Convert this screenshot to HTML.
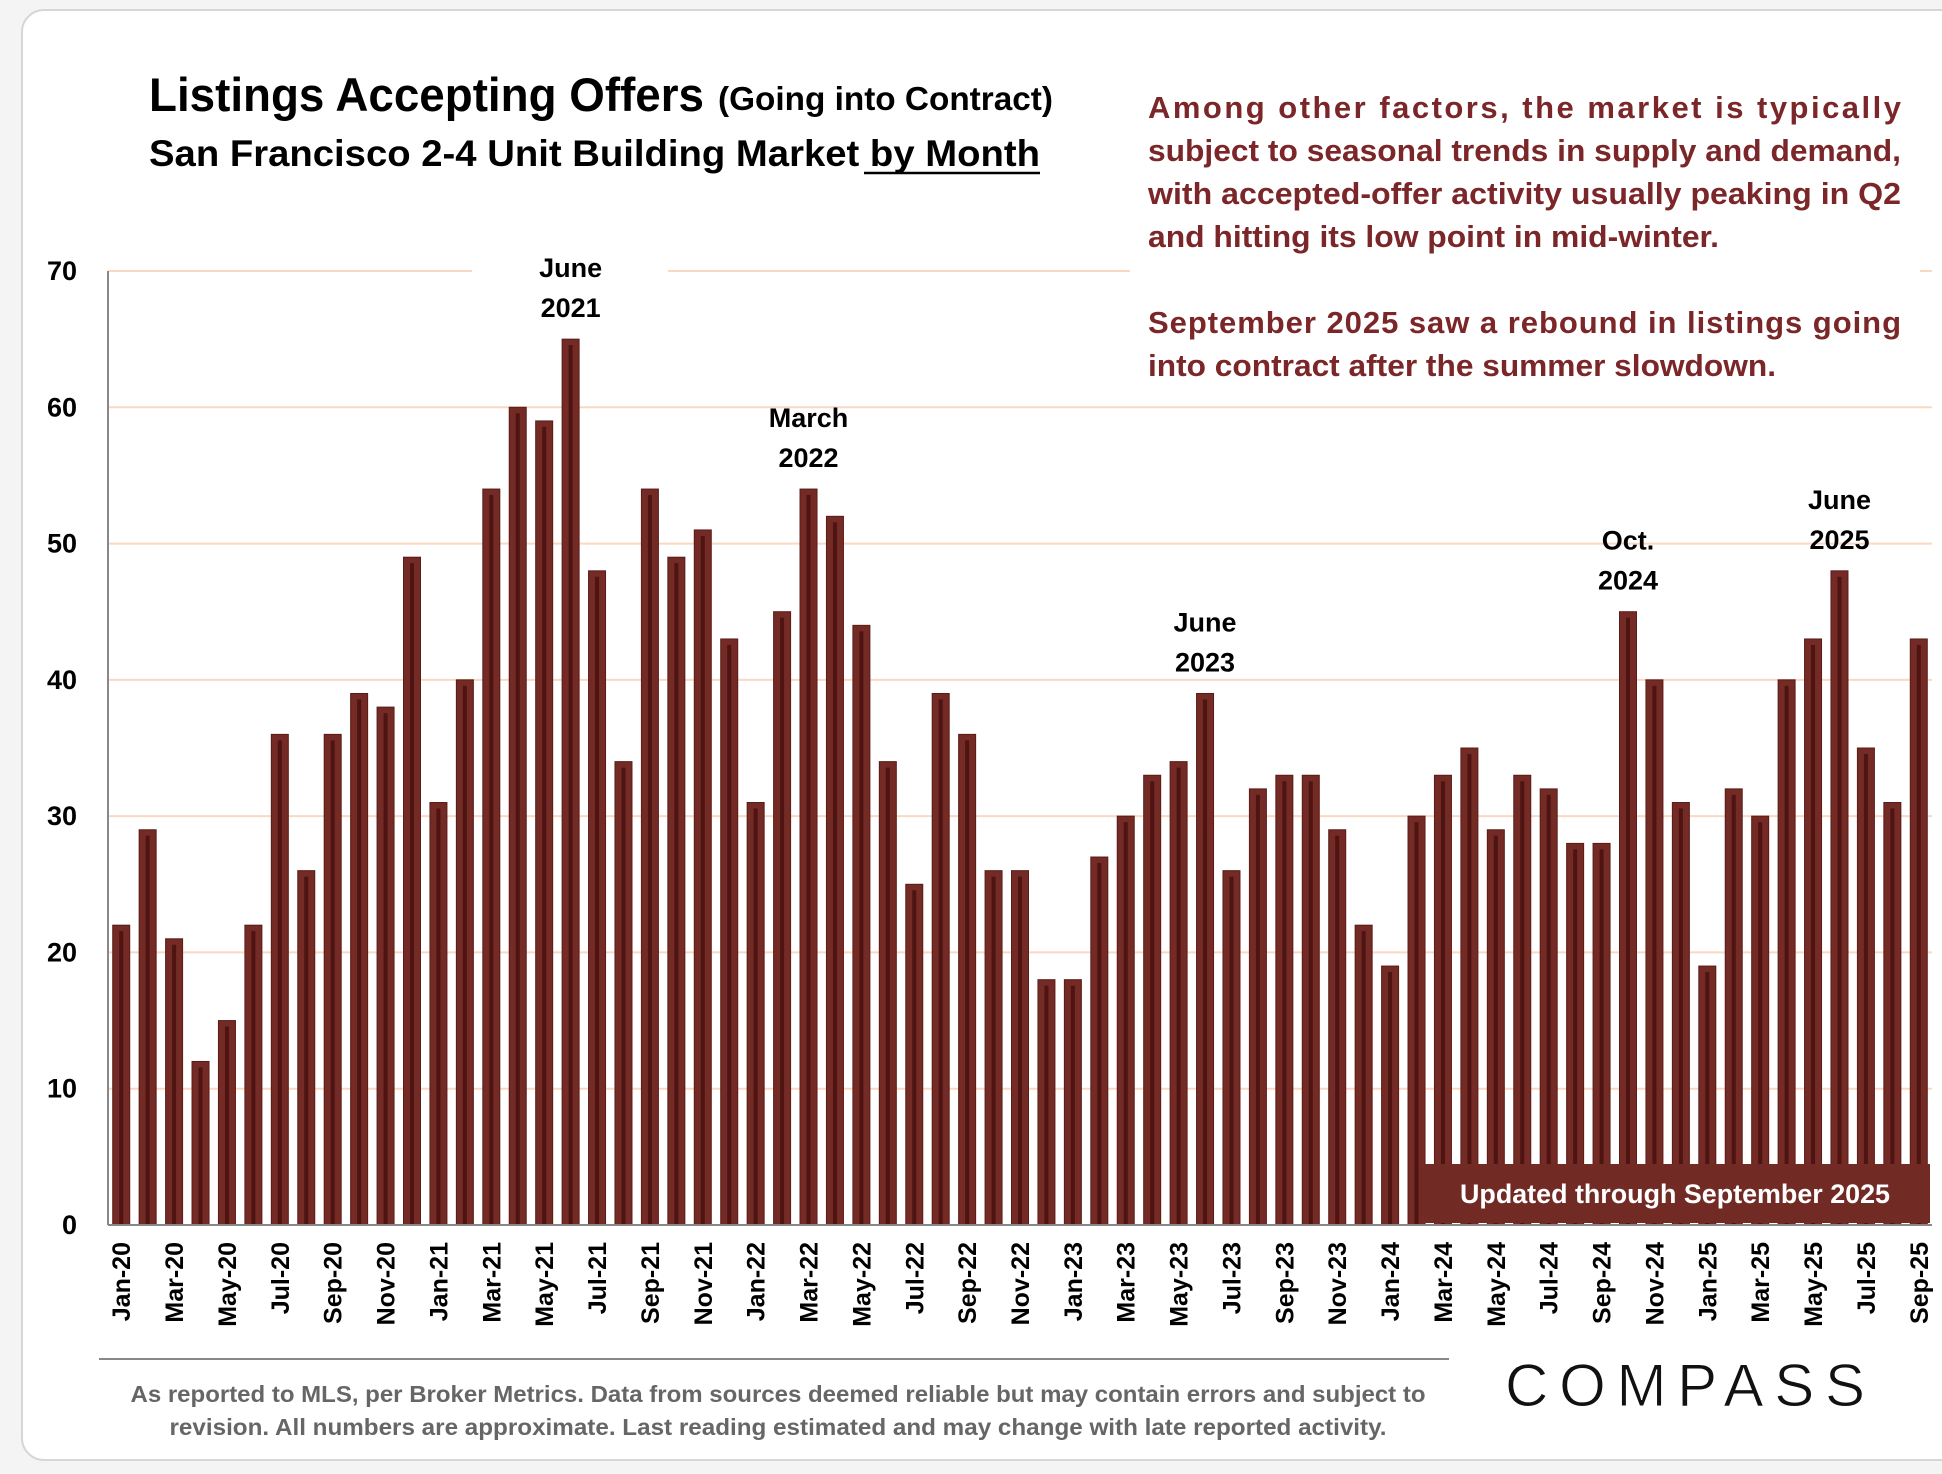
<!DOCTYPE html>
<html><head><meta charset="utf-8"><style>
html,body{margin:0;padding:0;background:#f4f4f4;}
svg{display:block;font-family:"Liberation Sans",sans-serif;}
</style></head><body>
<svg id="chart" width="1942" height="1474" viewBox="0 0 1942 1474" xmlns="http://www.w3.org/2000/svg">
<rect x="22" y="10" width="1940" height="1450" rx="22" fill="#fff" stroke="#d6d6d6" stroke-width="2"/>
<g id="grid"></g>
<g id="bars"></g>
<rect x="1130" y="70" width="790" height="315" fill="#fff"/>
<text x="149" y="111" font-size="47" font-weight="bold" fill="#000" textLength="555" lengthAdjust="spacingAndGlyphs">Listings Accepting Offers</text>
<text x="718" y="110" font-size="33" font-weight="bold" fill="#000" textLength="335" lengthAdjust="spacingAndGlyphs">(Going into Contract)</text>
<text x="149" y="166" font-size="37" font-weight="bold" fill="#000" textLength="891" lengthAdjust="spacingAndGlyphs">San Francisco 2-4 Unit Building Market by Month</text>
<line x1="864" y1="173" x2="1040" y2="173" stroke="#000" stroke-width="2.5"/>
<g font-size="31" font-weight="bold" fill="#7b2628">
<text x="1148" y="118" textLength="753" lengthAdjust="spacing">Among other factors, the market is typically</text>
<text x="1148" y="161" textLength="753" lengthAdjust="spacingAndGlyphs">subject to seasonal trends in supply and demand,</text>
<text x="1148" y="204" textLength="753" lengthAdjust="spacingAndGlyphs">with accepted-offer activity usually peaking in Q2</text>
<text x="1148" y="247" textLength="571" lengthAdjust="spacingAndGlyphs">and hitting its low point in mid-winter.</text>
<text x="1148" y="333" textLength="753" lengthAdjust="spacing">September 2025 saw a rebound in listings going</text>
<text x="1148" y="376" textLength="628" lengthAdjust="spacingAndGlyphs">into contract after the summer slowdown.</text>
</g>
<g id="yaxis"></g>
<g id="xaxis"></g>
<g id="annots"></g>
<rect x="1420" y="1164" width="510" height="59" fill="#722a25"/>
<text x="1675" y="1203" font-size="27" font-weight="bold" fill="#fff" text-anchor="middle" textLength="430" lengthAdjust="spacingAndGlyphs">Updated through September 2025</text>
<line x1="99" y1="1359" x2="1449" y2="1359" stroke="#888" stroke-width="2"/>
<text x="778" y="1402" font-size="23" font-weight="bold" fill="#666" text-anchor="middle" textLength="1295" lengthAdjust="spacingAndGlyphs">As reported to MLS, per Broker Metrics. Data from sources deemed reliable but may contain errors and subject to</text>
<text x="778" y="1435" font-size="23" font-weight="bold" fill="#666" text-anchor="middle" textLength="1217" lengthAdjust="spacingAndGlyphs">revision. All numbers are approximate.  Last reading estimated and may change with late reported activity.</text>
<text x="1505" y="1406" font-size="60" fill="#111" stroke="#fff" stroke-width="1" textLength="360" lengthAdjust="spacing">COMPASS</text>
</svg>
<script>
const months = ["Jan","Feb","Mar","Apr","May","Jun","Jul","Aug","Sep","Oct","Nov","Dec"];
const years = ["20","21","22","23","24","25"];
const values = [22,29,21,12,15,22,36,26,36,39,38,49,
31,40,54,60,59,65,48,34,54,49,51,43,
31,45,54,52,44,34,25,39,36,26,26,18,
18,27,30,33,34,39,26,32,33,33,29,22,
19,30,33,35,29,33,32,28,28,45,40,31,
19,32,30,40,43,48,35,31,43];
const yTicks = [0,10,20,30,40,50,60,70];
const annotIndex = [17,26,41,57,65];
const annotLine1 = ["June","March","June","Oct.","June"];
const annotLine2 = ["2021","2022","2023","2024","2025"];

const categories = [];
for (let i = 0; i < values.length; i++) categories.push(months[i % 12] + "-" + years[Math.floor(i / 12)]);

const NS = "http://www.w3.org/2000/svg";
const X0 = 108, X1 = 1932, Y0 = 1225, Y70 = 271;
const step = (X1 - X0) / values.length;
const bw = 17;
function xc(i){ return X0 + step * (i + 0.5); }
function y(v){ return Y0 - (Y0 - Y70) * v / 70; }
function mk(tag, attrs, parent){ const e = document.createElementNS(NS, tag); for (const k in attrs) e.setAttribute(k, attrs[k]); parent.appendChild(e); return e; }

const grid = document.getElementById("grid");
yTicks.forEach(t => {
  if (t === 0) return;
  if (t === 70) {
    const a = mk("line", {x1:X0, x2:472, y1:y(t), y2:y(t), stroke:"#fbd8c2", "stroke-width":2}, grid);
    
    
    const b = mk("line", {x1:668, x2:X1, y1:y(t), y2:y(t), stroke:"#fbd8c2", "stroke-width":2}, grid);
    
    
  } else {
    const l = mk("line", {x1:X0, x2:X1, y1:y(t), y2:y(t), stroke:"#fbd8c2", "stroke-width":2}, grid);
    
    
  }
});
const al = mk("line", {x1:X0, x2:X0, y1:Y70, y2:Y0, stroke:"#888", "stroke-width":2}, grid);



const bars = document.getElementById("bars");
values.forEach((v, i) => {
  const r = mk("rect", {x:xc(i) - bw/2, y:y(v), width:bw, height:Y0 - y(v), fill:"#742a25", stroke:"#5a1c18", "stroke-width":1}, bars);
  
  
  const s = mk("rect", {x:xc(i) - 2, y:y(v) + 6, width:4, height:Math.max(0, Y0 - y(v) - 6), fill:"#4d1411"}, bars);
  
  
});
const bl = mk("line", {x1:X0, x2:X1, y1:Y0, y2:Y0, stroke:"#888", "stroke-width":2}, bars);



const ya = document.getElementById("yaxis");
yTicks.forEach(t => {
  const e = mk("text", {x:77, y:y(t) + 9, "font-size":27, "font-weight":"bold", "text-anchor":"end", fill:"#000"}, ya);
  e.textContent = t;
  
  
});

const xa = document.getElementById("xaxis");
categories.forEach((c, i) => {
  if (i % 2) return;
  const e = mk("text", {transform:"translate(" + (xc(i) + 9) + ",1242) rotate(-90)", "font-size":25, "font-weight":"bold", "text-anchor":"end", fill:"#000"}, xa);
  e.textContent = c;
  
  
});

const an = document.getElementById("annots");
annotIndex.forEach((idx, k) => {
  const top = y(values[idx]);
  const t1 = mk("text", {x:xc(idx), y:top - 62, "font-size":27, "font-weight":"bold", "text-anchor":"middle", fill:"#000"}, an);
  t1.textContent = annotLine1[k];
  
  
  const t2 = mk("text", {x:xc(idx), y:top - 22, "font-size":27, "font-weight":"bold", "text-anchor":"middle", fill:"#000"}, an);
  t2.textContent = annotLine2[k];
  
  
});
</script>
</body></html>
